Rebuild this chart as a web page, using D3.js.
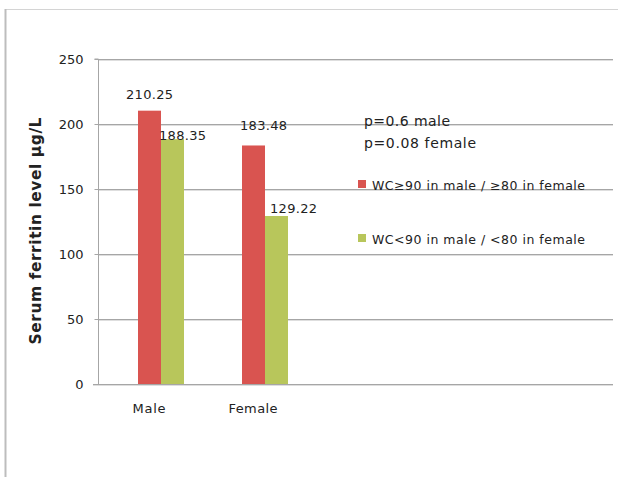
<!DOCTYPE html>
<html>
<head>
<meta charset="utf-8">
<script src="https://cdn.jsdelivr.net/npm/d3@7"></script>
<style>
  html, body { margin: 0; padding: 0; background: #fff; }
  svg { display: block; }
  text { font-family: "DejaVu Sans", Verdana, sans-serif; fill: #222; }
</style>
</head>
<body>
<svg id="chart" width="618" height="477"></svg>
<script>
// Serum ferritin by waist circumference group
const categories = ["Male", "Female"];
const seriesNames = ["WC≥90 in male / ≥80 in female", "WC<90 in male / <80 in female"];
const highWC = [210.25, 183.48];
const lowWC = [188.35, 129.22];
const yTicks = [0, 50, 100, 150, 200, 250];
const pNotes = ["p=0.6 male", "p=0.08 female"];
const colors = ["#d95450", "#b8c65b"];

const svg = d3.select("#chart");

// frame lines
svg.append("line").attr("x1", 5).attr("x2", 618).attr("y1", 9.5).attr("y2", 9.5)
  .attr("stroke", "#d4d4d4").attr("stroke-width", 1);
svg.append("line").attr("x1", 5.5).attr("x2", 5.5).attr("y1", 9).attr("y2", 477)
  .attr("stroke", "#bdbdbd").attr("stroke-width", 2);

const plotLeft = 98, plotRight = 613;
const y = d3.scaleLinear().domain([0, 250]).range([384, 59]);
const x0 = d3.scaleBand().domain(categories).range([109, 317]);
const x1 = d3.scaleBand().domain([0, 1]).range([x0.bandwidth() / 2 - 23, x0.bandwidth() / 2 + 23]);

// gridlines
const grid = svg.append("g");
yTicks.filter(t => t > 0).forEach(t => {
  grid.append("line").attr("x1", plotLeft).attr("x2", plotRight)
    .attr("y1", y(t) + 0.5).attr("y2", y(t) + 0.5).attr("stroke", "#a6a6a6");
  grid.append("line").attr("x1", plotLeft).attr("x2", plotRight)
    .attr("y1", y(t) + 1.5).attr("y2", y(t) + 1.5).attr("stroke", "#dedede");
});

// bars
const rows = categories.map((c, i) => ({ cat: c, vals: [highWC[i], lowWC[i]] }));
const groups = svg.selectAll("g.grp").data(rows).join("g")
  .attr("class", "grp")
  .attr("transform", d => `translate(${x0(d.cat)},0)`);
groups.selectAll("rect").data(d => d.vals.map((v, k) => ({ v, k }))).join("rect")
  .attr("x", d => x1(d.k))
  .attr("width", x1.bandwidth())
  .attr("y", d => y(d.v))
  .attr("height", d => y(0) - y(d.v))
  .attr("fill", d => colors[d.k]);

// value labels
const labelOffsets = [
  [{ dx: 0, dy: -12 }, { dx: 10, dy: 1 }],
  [{ dx: 10, dy: -15 }, { dx: 17, dy: -3 }]
];
rows.forEach((r, i) => {
  r.vals.forEach((v, k) => {
    const cx = x0(r.cat) + x1(k) + x1.bandwidth() / 2;
    svg.append("text")
      .attr("x", cx + labelOffsets[i][k].dx)
      .attr("y", y(v) + labelOffsets[i][k].dy)
      .attr("text-anchor", "middle")
      .attr("font-size", 13)
      .attr("textLength", 47)
      .text(v.toFixed(2));
  });
});

// y axis
const yAxis = d3.axisLeft(y).tickValues(yTicks).tickSize(4).tickPadding(11);
const gy = svg.append("g").attr("transform", `translate(${plotLeft + 0.5},0)`).call(yAxis);
gy.select(".domain").attr("stroke", "#a6a6a6").attr("d", `M-4,${y(250)}H0V${y(0)}`);
gy.selectAll(".tick line").attr("stroke", "#a6a6a6");
gy.selectAll(".tick text").attr("font-size", 13).attr("fill", "#333")
  .attr("font-family", "'DejaVu Sans', Verdana, sans-serif");

// x axis baseline
svg.append("line").attr("x1", 93).attr("x2", plotRight).attr("y1", y(0) + 0.5).attr("y2", y(0) + 0.5)
  .attr("stroke", "#a6a6a6");
svg.append("line").attr("x1", 93).attr("x2", plotRight).attr("y1", y(0) + 1.5).attr("y2", y(0) + 1.5)
  .attr("stroke", "#dedede");

// category labels
const catWidths = { Male: 33, Female: 49 };
categories.forEach(c => {
  svg.append("text")
    .attr("x", x0(c) + x0.bandwidth() / 2 - 12)
    .attr("y", 413)
    .attr("text-anchor", "middle")
    .attr("font-size", 13)
    .attr("textLength", catWidths[c])
    .text(c);
});

// y axis title
svg.append("text")
  .attr("transform", "translate(41,231) rotate(-90)")
  .attr("text-anchor", "middle")
  .attr("font-size", 15.5)
  .attr("font-weight", "bold")
  .attr("font-family", "'Liberation Sans', Arial, sans-serif")
  .attr("fill", "#111")
  .attr("textLength", 227)
  .text("Serum ferritin level µg/L");

// p-values
pNotes.forEach((t, i) => {
  svg.append("text")
    .attr("x", 364).attr("y", 126 + i * 22)
    .attr("font-size", 14)
    .attr("textLength", i === 0 ? 86 : 112)
    .text(t);
});

// legend
seriesNames.forEach((s, i) => {
  const ly = 190 + i * 54;
  svg.append("rect").attr("x", 358).attr("y", ly - 10).attr("width", 8).attr("height", 8)
    .attr("fill", colors[i]);
  svg.append("text").attr("x", 372).attr("y", ly)
    .attr("font-size", 12.5)
    .attr("textLength", 213)
    .text(s);
});
</script>
</body>
</html>
